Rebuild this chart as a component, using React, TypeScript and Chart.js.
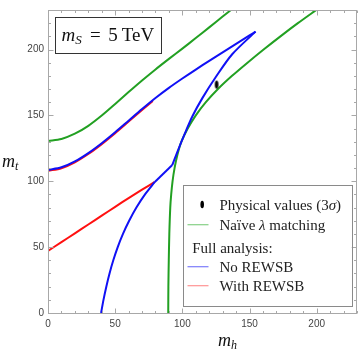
import { useEffect, useRef } from "react";
import { Chart, registerables } from "chart.js";

Chart.register(...registerables);

// ---- axes ----
const xTickValues = [0, 50, 100, 150, 200];
const yTickValues = [0, 50, 100, 150, 200];
const axisMin = 0;
const axisMax = 230;
const minorStep = 10;

// ---- Naive lambda matching (green) ----
const greenUpperX = [0, 10, 20, 30, 40, 50, 60, 70, 80, 90, 100, 110, 120, 130, 140];
const greenUpperY = [130.6, 132.1, 136.1, 142.1, 149.9, 158.7, 167.7, 176.5, 184.9, 192.9, 200.7, 208.7, 216.8, 225.0, 233.2];
const greenRightX = [89.5, 89.6, 89.9, 90.3, 91.0, 91.7, 92.7, 94.2, 96.3, 99.3, 104, 110, 117.5, 126.5, 137, 148.5, 160.5, 173, 186, 201];
const greenRightY = [0, 20, 40, 60, 80, 90, 100, 110, 120, 130, 140, 150, 160, 170, 180, 190, 200, 210, 220, 231];

// ---- Full analysis, no REWSB (blue) ----
const blueLowerX = [39.5, 41.3, 43.4, 45.8, 48.6, 51.9, 55.8, 60.4, 65.8, 72.2, 79.5];
const blueLowerY = [0, 10, 20, 30, 40, 50, 60, 70, 80, 90, 99.5];
const blueKinkX = [79.5, 92.5];
const blueKinkY = [99.5, 112.3];
const blueRiseX = [92.5, 97.7, 102.7, 107.5, 114.9, 124.9, 137.1, 154.5];
const blueRiseY = [112.3, 126, 138.3, 149.4, 163.1, 179.1, 196.4, 213.6];
const blueUpperX = [154.5, 150, 140, 130, 120, 110, 100, 90, 80, 70, 60, 50, 40, 30, 20, 10, 0];
const blueUpperY = [213.6, 210.7, 204.3, 197.9, 191.4, 184.8, 178.0, 170.9, 163.2, 154.8, 146.0, 137.2, 128.9, 121.4, 115.1, 110.6, 108.6];

// ---- Full analysis, with REWSB (red) ----
const redLowerX = [0, 10, 20, 30, 40, 50, 60, 70, 79.5];
const redLowerY = [47.2, 53.8, 60.5, 67.2, 73.9, 80.6, 87.2, 93.6, 99.5];
const redUpperX = [0, 10, 20, 30, 40, 50, 60, 70, 78];
const redUpperY = [107.9, 109.9, 114.4, 120.7, 128.2, 136.5, 145.3, 154.1, 161.0];

// ---- Physical values ----
const physX = [125.5];
const physY = [173.4];

const GREEN = "#22a022";
const BLUE = "#1010f5";
const RED = "#ff1010";

const pts = (xs: number[], ys: number[]) => xs.map((x, i) => ({ x, y: ys[i] }));

function makeDot(rx: number, ry: number): HTMLCanvasElement {
  const c = document.createElement("canvas");
  c.width = Math.ceil(rx * 2) + 2;
  c.height = Math.ceil(ry * 2) + 2;
  const g = c.getContext("2d")!;
  g.fillStyle = "#000";
  g.beginPath();
  g.ellipse(c.width / 2, c.height / 2, rx, ry, 0, 0, Math.PI * 2);
  g.fill();
  return c;
}

const SERIF = '"Liberation Serif", "DejaVu Serif", serif';

type Piece = { t: string; font: string; dy?: number; x?: number };

function drawPieces(ctx: CanvasRenderingContext2D, x: number, y: number, pieces: Piece[]) {
  let cx = x;
  for (const p of pieces) {
    ctx.font = p.font;
    const px = p.x !== undefined ? x + p.x : cx;
    ctx.fillText(p.t, px, y + (p.dy || 0));
    cx = px + ctx.measureText(p.t).width;
  }
}

const framePlugin = {
  id: "mmaFrame",
  afterDatasetsDraw(chart: any) {
    const { ctx, chartArea: a, scales } = chart;
    const xs = scales.x;
    const ys = scales.y;
    ctx.save();
    ctx.strokeStyle = "#a8a8a8";
    ctx.lineWidth = 1;
    const L = Math.round(a.left) + 0.5;
    const R = Math.round(a.right) - 0.5;
    const T = Math.round(a.top) + 0.5;
    const B = Math.round(a.bottom) + 0.5;
    ctx.strokeRect(L, T, R - L, B - T);
    ctx.beginPath();
    for (let v = axisMin; v <= axisMax; v += minorStep) {
      const majX = xTickValues.includes(v);
      const majY = yTickValues.includes(v);
      const px = Math.round(xs.getPixelForValue(v)) + 0.5;
      const lx = majX ? 5 : 2.5;
      ctx.moveTo(px, B);
      ctx.lineTo(px, B - lx);
      ctx.moveTo(px, T);
      ctx.lineTo(px, T + lx);
      const py = Math.round(ys.getPixelForValue(v)) + 0.5;
      const ly = majY ? 5 : 2.5;
      ctx.moveTo(L, py);
      ctx.lineTo(L + ly, py);
      ctx.moveTo(R, py);
      ctx.lineTo(R - ly, py);
    }
    ctx.stroke();
    ctx.restore();
  },
  afterDraw(chart: any) {
    const { ctx, chartArea: a } = chart;
    ctx.save();
    ctx.textBaseline = "alphabetic";
    ctx.textAlign = "left";
    ctx.fillStyle = "#111";

    // axis titles
    const cy = (a.top + a.bottom) / 2;
    drawPieces(ctx, 2, cy + 5, [
      { t: "m", font: `italic 18px ${SERIF}` },
      { t: "t", font: `italic 12px ${SERIF}`, dy: 3.5 },
    ]);
    const hx = a.left + (a.right - a.left) * 0.55;
    drawPieces(ctx, hx, a.bottom + 33, [
      { t: "m", font: `italic 18px ${SERIF}` },
      { t: "h", font: `italic 12px ${SERIF}`, dy: 3 },
    ]);

    // m_S box
    const bx = a.left + 7;
    const by = a.top + 7;
    ctx.fillStyle = "#fff";
    ctx.fillRect(bx, by, 106, 36);
    ctx.strokeStyle = "#333";
    ctx.lineWidth = 1;
    ctx.strokeRect(Math.round(bx) + 0.5, Math.round(by) + 0.5, 106, 36);
    ctx.fillStyle = "#111";
    drawPieces(ctx, bx, by + 23.5, [
      { t: "m", font: `italic 19px ${SERIF}`, x: 6.5 },
      { t: "S", font: `italic 13px ${SERIF}`, dy: 3.5 },
      { t: "=", font: `19px ${SERIF}`, x: 35 },
      { t: "5", font: `19px ${SERIF}`, x: 53.3 },
      { t: "TeV", font: `19px ${SERIF}`, x: 66.7 },
    ]);

    // legend box
    const lw = 169;
    const lh = 121;
    const lx = a.right - 5.5 - lw;
    const ly = a.bottom - 7.5 - lh;
    ctx.fillStyle = "#fff";
    ctx.fillRect(lx, ly, lw, lh);
    ctx.strokeStyle = "#8a8a8a";
    ctx.strokeRect(Math.round(lx) + 0.5, Math.round(ly) + 0.5, lw, lh);

    const f = `15px ${SERIF}`;
    const fi = `italic 15px ${SERIF}`;
    const tx = lx + 37;
    ctx.fillStyle = "#222";
    // row 1: physical values
    const r1 = ly + 25.7;
    ctx.beginPath();
    ctx.ellipse(lx + 19.7, r1 - 5.7, 1.8, 3.8, 0, 0, Math.PI * 2);
    ctx.fillStyle = "#000";
    ctx.fill();
    ctx.fillStyle = "#222";
    drawPieces(ctx, tx, r1, [
      { t: "Physical values (3", font: f },
      { t: "\u03c3", font: fi },
      { t: ")", font: f },
    ]);
    // row 2: naive
    const r2 = ly + 45.7;
    const line = (y: number, color: string) => {
      ctx.strokeStyle = color;
      ctx.lineWidth = 1.2;
      ctx.beginPath();
      ctx.moveTo(lx + 5, y);
      ctx.lineTo(lx + 26, y);
      ctx.stroke();
    };
    line(r2 - 5.5, "rgba(34,170,34,0.55)");
    drawPieces(ctx, tx, r2, [
      { t: "Na\u00efve ", font: f },
      { t: "\u03bb", font: fi },
      { t: " matching", font: f },
    ]);
    // row 3: Full analysis
    const r3 = ly + 68.3;
    drawPieces(ctx, lx + 9.7, r3, [{ t: "Full analysis:", font: f }]);
    // row 4
    const r4 = ly + 87.7;
    line(r4 - 5.5, "rgba(16,16,245,0.55)");
    drawPieces(ctx, tx, r4, [{ t: "No REWSB", font: f }]);
    // row 5
    const r5 = ly + 106.7;
    line(r5 - 5.5, "rgba(255,16,16,0.45)");
    drawPieces(ctx, tx, r5, [{ t: "With REWSB", font: f }]);

    ctx.restore();
  },
};

export default function App() {
  const ref = useRef<HTMLCanvasElement | null>(null);

  useEffect(() => {
    document.body.style.margin = "0";
    const canvas = ref.current;
    if (!canvas) return;
    const lineDs = (label: string, xs: number[], ys: number[], color: string, tension: number) => ({
      label,
      data: pts(xs, ys),
      showLine: true,
      borderColor: color,
      backgroundColor: color,
      borderWidth: 2,
      pointRadius: 0,
      pointHoverRadius: 0,
      tension,
      fill: false,
    });
    const chart = new Chart(canvas, {
      type: "scatter",
      data: {
        datasets: [
          {
            label: "Physical values",
            data: pts(physX, physY),
            pointStyle: makeDot(1.8, 4) as any,
            pointRadius: 4,
            showLine: false,
          } as any,
          lineDs("No REWSB lower", blueLowerX, blueLowerY, BLUE, 0.3),
          lineDs("No REWSB kink", blueKinkX, blueKinkY, BLUE, 0),
          lineDs("No REWSB rise", blueRiseX, blueRiseY, BLUE, 0.3),
          lineDs("No REWSB upper", blueUpperX, blueUpperY, BLUE, 0.3),
          lineDs("With REWSB lower", redLowerX, redLowerY, RED, 0.3),
          lineDs("With REWSB upper", redUpperX, redUpperY, RED, 0.3),
          lineDs("Naive upper", greenUpperX, greenUpperY, GREEN, 0.3),
          lineDs("Naive right", greenRightX, greenRightY, GREEN, 0.3),
        ],
      },
      options: {
        responsive: false,
        animation: false,
        devicePixelRatio: 1,
        layout: { padding: { top: 3, right: 3.5, left: 0, bottom: 0 } },
        plugins: {
          legend: { display: false },
          tooltip: { enabled: false },
        },
        events: [],
        scales: {
          x: {
            type: "linear",
            min: axisMin,
            max: axisMax,
            grid: { display: false, drawTicks: false },
            border: { display: false },
            ticks: {
              padding: 5,
              color: "#444",
              font: { family: '"Liberation Sans", Arial, sans-serif', size: 10 },
              maxRotation: 0,
              autoSkip: false,
              callback: (v: any) => String(v),
            },
            afterBuildTicks: (s: any) => {
              s.ticks = xTickValues.map((v) => ({ value: v }));
            },
            afterFit: (s: any) => {
              s.height = 45;
            },
          },
          y: {
            type: "linear",
            min: axisMin,
            max: axisMax,
            grid: { display: false, drawTicks: false },
            border: { display: false },
            ticks: {
              padding: 4,
              color: "#444",
              font: { family: '"Liberation Sans", Arial, sans-serif', size: 10 },
              autoSkip: false,
              callback: (v: any) => String(v),
            },
            afterBuildTicks: (s: any) => {
              s.ticks = yTickValues.map((v) => ({ value: v }));
            },
            afterFit: (s: any) => {
              s.width = 48;
            },
          },
        },
      },
      plugins: [framePlugin],
    });
    return () => chart.destroy();
  }, []);

  return <canvas ref={ref} width={362} height={358} style={{ display: "block" }} />;
}
